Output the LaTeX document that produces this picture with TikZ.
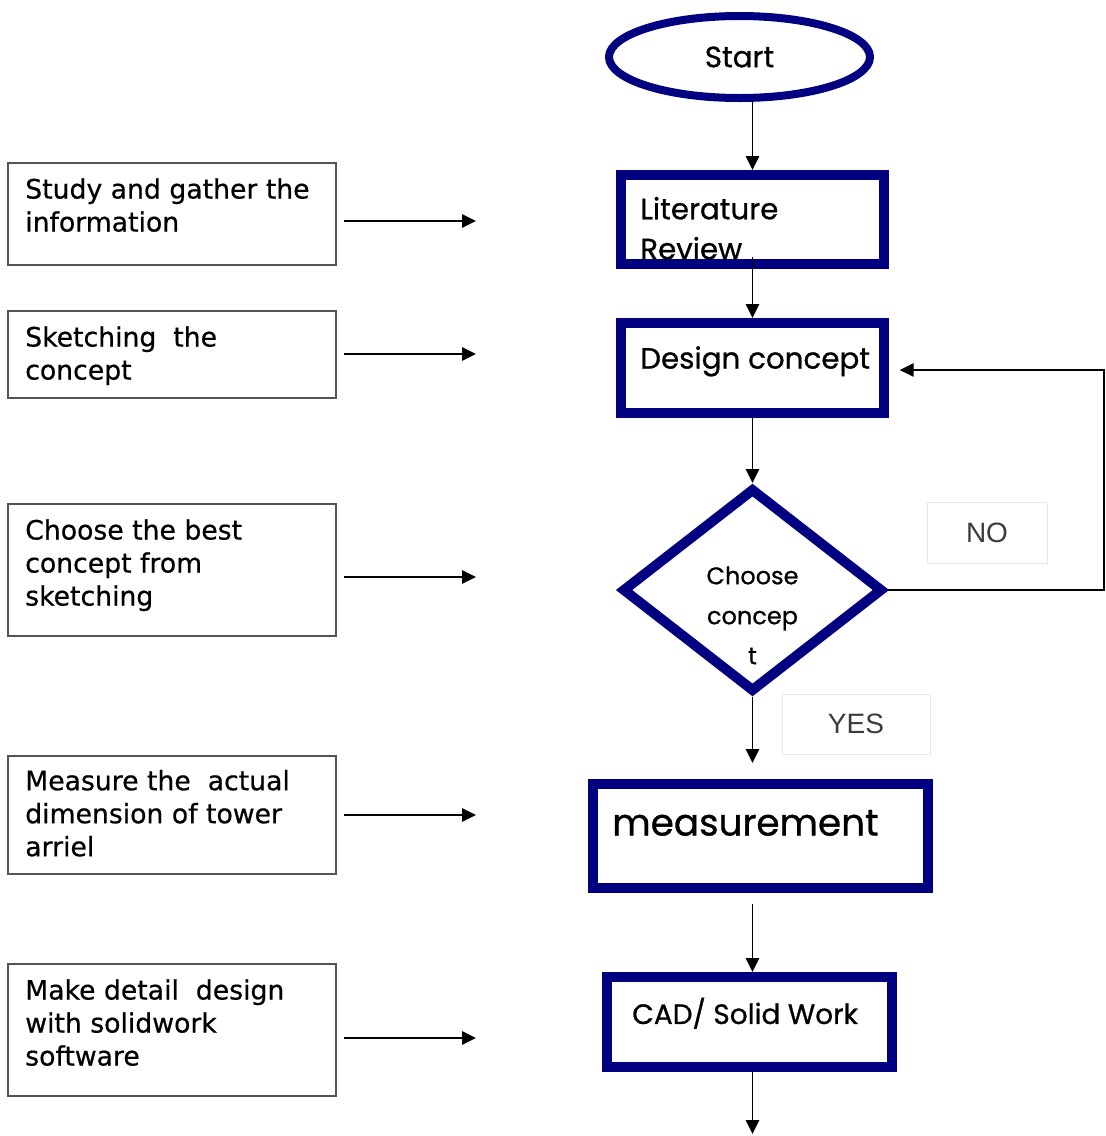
\documentclass[tikz,border=0pt]{standalone}
\usepackage{fontspec}
\setmainfont{DejaVu Sans}
\newfontfamily\flowfont[FakeBold=0.8]{Poppins}
\newfontfamily\sidefont[FakeBold=0.6]{DejaVu Sans}
\newfontfamily\tagfont{Liberation Sans}
\usepackage{tikz}
\usetikzlibrary{shapes.geometric}
\usetikzlibrary{arrows.meta}
\usetikzlibrary{positioning}
\definecolor{flownavy}{RGB}{0,0,128}
\definecolor{sideline}{RGB}{85,85,85}
\definecolor{tagline}{RGB}{232,232,232}
\definecolor{tagtext}{RGB}{60,60,60}

\begin{document}
\begin{tikzpicture}[x=0.75pt,y=-0.75pt,
flowbox/.style={draw=flownavy,line width=7.5pt,inner sep=0},
sidebox/.style={draw=sideline,line width=1.5pt,minimum width=246pt,inner sep=0},
sidetext/.style={anchor=north west,align=left,inner sep=0,font=\sidefont\fontsize{20}{24.75}\selectfont},
flowtext/.style={anchor=north west,align=left,inner sep=0,font=\flowfont\fontsize{22}{30}\selectfont},
tagbox/.style={draw=tagline,line width=0.75pt,inner sep=0,text=tagtext,font=\tagfont\fontsize{21}{25}\selectfont},
flowarrow/.style={line width=1.4pt,-{Triangle[length=10.5pt,width=10pt]}}]
\useasboundingbox (0,0) rectangle (1106,1136);

\node[flowbox,ellipse,line width=6pt,minimum width=195.75pt,minimum height=61.5pt,font=\flowfont\fontsize{22}{26}\selectfont] (start) at (739.5,57) {Start};
\node[flowbox,minimum width=197.25pt,minimum height=66.75pt] (lit) at (752.5,219.5) {};
\node[flowtext] (littext) at ([xshift=18pt,yshift=-20pt]lit.north west) {Literature\\Review};
\node[flowbox,minimum width=197.25pt,minimum height=67.5pt] (design) at (752.5,368) {};
\node[flowtext] (designtext) at ([xshift=18pt,yshift=-21pt]design.north west) {Design concept};
\node[flowbox,diamond,minimum width=195.75pt,minimum height=153pt] (choose) at (752.5,590) {};
\node[align=center,inner sep=0,font=\flowfont\fontsize{18}{30}\selectfont] (choosetext) at ([yshift=-19pt]choose.center) {Choose\\concep\\t};
\node[flowbox,minimum width=251.25pt,minimum height=78pt] (meas) at (760.5,836) {};
\node[flowtext,font=\flowfont\fontsize{28}{34}\selectfont] (meastext) at ([xshift=18pt,yshift=-23pt]meas.north west) {measurement};
\node[flowbox,minimum width=213.75pt,minimum height=67.5pt] (cad) at (749.5,1022) {};
\node[flowtext,font=\flowfont\fontsize{21}{28}\selectfont] (cadtext) at ([xshift=22.5pt,yshift=-19pt]cad.north west) {CAD/ Solid Work};

\node[tagbox,minimum width=90pt,minimum height=45.75pt] (no) at (987,532.5) {NO};
\node[tagbox,minimum width=111pt,minimum height=45pt] (yes) at (856,724) {YES};

\node[sidebox,minimum height=76.5pt] (study) at (172,214) {};
\node[sidetext] (studytext) at ([xshift=13.5pt,yshift=-12pt]study.north west) {Study and gather the\\information};
\node[sidebox,minimum height=65.25pt] (sketch) at (172,354.5) {};
\node[sidetext] (sketchtext) at ([xshift=13.5pt,yshift=-12pt]sketch.north west) {Sketching~ the\\concept};
\node[sidebox,minimum height=99pt] (best) at (172,570) {};
\node[sidetext] (besttext) at ([xshift=13.5pt,yshift=-12pt]best.north west) {Choose the best\\concept from\\sketching};
\node[sidebox,minimum height=88.5pt] (actual) at (172,815) {};
\node[sidetext] (actualtext) at ([xshift=13.5pt,yshift=-11pt]actual.north west) {Measure the~ actual\\dimension of tower\\arriel};
\node[sidebox,minimum height=99pt] (detail) at (172,1030) {};
\node[sidetext] (detailtext) at ([xshift=13.5pt,yshift=-12pt]detail.north west) {Make detail~ design\\with solidwork\\software};

\coordinate (studyend) at (476,221);
\coordinate (sketchend) at (476,354);
\coordinate (bestend) at (476,577);
\coordinate (actualend) at (476,815);
\coordinate (detailend) at (476,1038);
\draw[flowarrow,shorten <=5pt] (study.east |- studyend) -- (studyend);
\draw[flowarrow,shorten <=5pt] (sketch.east |- sketchend) -- (sketchend);
\draw[flowarrow,shorten <=5pt] (best.east |- bestend) -- (bestend);
\draw[flowarrow,shorten <=5pt] (actual.east |- actualend) -- (actualend);
\draw[flowarrow,shorten <=5pt] (detail.east |- detailend) -- (detailend);

\draw[flowarrow] (start.south -| lit.north) -- (lit.north);
\draw[flowarrow] ([yshift=9pt]lit.south) -- (design.north);
\draw[flowarrow] (design.south) -- (choose.north);
\draw[flowarrow,shorten >=12pt] (choose.south) -- (choose.south |- meas.north);
\draw[flowarrow,shorten <=8pt] (choose.south |- meas.south) -- (choose.south |- cad.north);
\coordinate (finish) at (752.5,1134);
\draw[flowarrow] (choose.south |- cad.south) -- (finish);
\coordinate (noback) at (1104,370);
\draw[flowarrow,shorten >=8pt] (choose.east) -| (noback) -- (design.east |- noback);
\end{tikzpicture}
\end{document}
